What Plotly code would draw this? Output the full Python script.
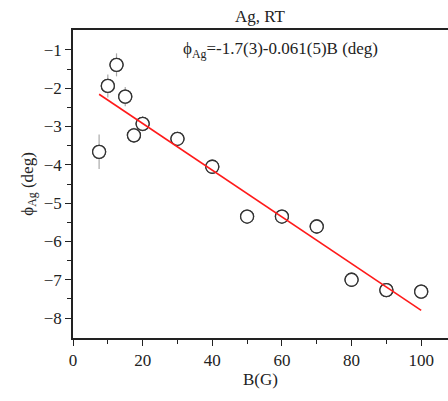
import plotly.graph_objects as go

B = [7.5, 10, 12.5, 15, 17.5, 20, 30, 40, 50, 60, 70, 80, 90, 100]
phi = [-3.66, -1.94, -1.39, -2.22, -3.23, -2.93, -3.32, -4.05, -5.35, -5.35, -5.61, -7.0, -7.27, -7.31]
err = [0.45, 0.3, 0.3, 0.25, 0.2, 0.2, 0.15, 0.15, 0.12, 0.12, 0.12, 0.12, 0.12, 0.12]
fit_a, fit_b = -1.7, -0.061
fit_x = [7.5, 100]
fit_y = [fit_a + fit_b * x for x in fit_x]

FONT = "Liberation Serif"

fig = go.Figure()
fig.add_trace(go.Scatter(
    x=B, y=phi, mode="markers",
    marker=dict(symbol="circle", size=13, color="rgba(255,255,255,0)",
                line=dict(width=1.3, color="#333333")),
    error_y=dict(type="data", array=err, color="#aaaaaa", thickness=1.2, width=0),
    showlegend=False))
# white fill so error bars don't show through the circles
fig.add_trace(go.Scatter(
    x=B, y=phi, mode="markers",
    marker=dict(symbol="circle", size=13, color="white",
                line=dict(width=1.3, color="#333333")),
    showlegend=False))
fig.add_trace(go.Scatter(
    x=fit_x, y=fit_y, mode="lines",
    line=dict(color="#ff1a1a", width=1.6), showlegend=False))

fig.update_layout(
    width=448, height=401,
    margin=dict(l=73, r=0, t=30, b=63),
    paper_bgcolor="white", plot_bgcolor="white",
    font=dict(family=FONT, size=17, color="#222222"),
    xaxis=dict(range=[0, 107.7], tickmode="array", tickvals=[0, 20, 40, 60, 80, 100],
               ticks="outside", ticklen=6, tickwidth=1.3, tickcolor="#222",
               showline=True, linecolor="#222", linewidth=1.5, mirror=True,
               showgrid=False, zeroline=False,
               minor=dict(tickvals=[10, 30, 50, 70, 90], ticks="outside", ticklen=4, tickcolor="#222", tickwidth=1.2),
               title=dict(text="B(G)", font=dict(size=17), standoff=4),
               tickfont=dict(size=17)),
    yaxis=dict(range=[-8.52, -0.48], tickmode="array", tickvals=[-1, -2, -3, -4, -5, -6, -7, -8],
               ticks="outside", ticklen=6, tickwidth=1.3, tickcolor="#222",
               showline=True, linecolor="#222", linewidth=1.5, mirror=False,
               showgrid=False, zeroline=False,
               minor=dict(tickvals=[-1.5, -2.5, -3.5, -4.5, -5.5, -6.5, -7.5], ticks="outside", ticklen=4, tickcolor="#222", tickwidth=1.2),
               title=dict(text="ϕ<sub>Ag</sub> (deg)", font=dict(size=17), standoff=6),
               tickfont=dict(size=17)),
    annotations=[
        dict(text="Ag, RT", xref="paper", yref="paper", x=0.5, y=1, yanchor="bottom",
             xanchor="center", yshift=2, showarrow=False, font=dict(size=17)),
        dict(text="ϕ<sub>Ag</sub>=-1.7(3)-0.061(5)B (deg)", xref="x", yref="y", x=31, y=-1.0,
             xanchor="left", yanchor="middle", showarrow=False, font=dict(size=17)),
    ],
)
fig.write_html("out.html")
